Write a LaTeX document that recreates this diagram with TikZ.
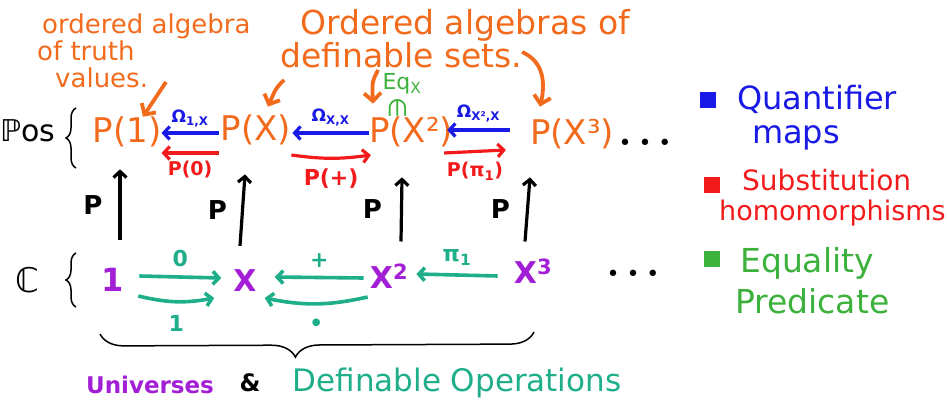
\documentclass[tikz,border=0pt]{standalone}
\usepackage{fontspec}
\setmainfont{DejaVu Sans}
\usepackage{graphicx}
\usetikzlibrary{arrows.meta,decorations.pathreplacing}
\definecolor{cor}{HTML}{F26B1D}
\definecolor{cbl}{HTML}{1A1AE6}
\definecolor{crd}{HTML}{F21A1A}
\definecolor{cgr}{HTML}{3CB13C}
\definecolor{ctl}{HTML}{1FAE8A}
\definecolor{cpu}{HTML}{A31FD6}
\newcommand{\fs}[1]{\fontsize{#1}{#1}\selectfont}
\begin{document}
\begin{tikzpicture}[x=1pt,y=-1pt,
  every node/.style={inner sep=0pt},
  pnode/.style={text=cor,font=\fs{34}},
  cnode/.style={text=cpu,font=\fs{30}\bfseries},
  ann/.style={text=cor,align=left,anchor=north west},
  barb/.style={-{Straight Barb[length=6pt,width=13pt]}},
  qarr/.style={draw=cbl,line width=3.2pt,barb},
  sarr/.style={draw=crd,line width=3.2pt,barb},
  tarr/.style={draw=ctl,line width=3.6pt,barb},
  parr/.style={draw=black,line width=3.2pt,barb},
  oarr/.style={draw=cor,line width=3.8pt,-{Straight Barb[length=8pt,width=17pt]}},
  qlab/.style={text=cbl,font=\fs{17}\bfseries},
  slab/.style={text=crd,font=\fs{19}\bfseries},
  tlab/.style={text=ctl,font=\fs{22}\bfseries},
  plab/.style={text=black,font=\fs{26}\bfseries},
  legsq/.style={minimum size=16pt,inner sep=0pt},
  legtxt/.style={anchor=base west},
  bracedeco/.style={draw=black,line width=1.5pt,decorate}
]
\useasboundingbox (0,0) rectangle (947,406);

% annotations
\node[ann,font=\fontsize{26}{27}\selectfont] (ann1) at (37,14)
  {\hspace*{5pt}ordered algebra\\of truth\\\hspace*{18pt}values.};
\node[ann,font=\fontsize{33}{28}\selectfont] (ann2) at (280,9)
  {\hspace*{20pt}Ordered algebras of\\definable sets.};
\coordinate (t1) at (166,82);
\coordinate (t2) at (284,80);
\coordinate (t3) at (378,70);
\coordinate (t4) at (522,52);

% top row
\node[font=\fs{30}] (pos) at (28,131) {ℙos};
\node[pnode] (p1) at (127,132) {P(1)};
\node[pnode] (px) at (256,130) {P(X)};
\node[pnode] (px2) at (411,132) {P(X²)};
\node[pnode] (px3) at (572,134) {P(X³)};
\node[font=\fs{22}] (pdots) at (645,145) {•\hspace{7pt}•\hspace{7pt}•};

\node[text=cgr,font=\fs{22}] (eq) at (402,84) {Eq\textsubscript{X}};
\node[text=cgr,font=\fs{24}] (in) at (398,108) {\rotatebox{-90}{∈}};

% bottom row
\node[font=\fs{34}] (cC) at (27,280) {ℂ};
\node[cnode,font=\fs{32}\bfseries] (c1) at (113,280) {1};
\node[cnode] (cx) at (245,281) {X};
\node[cnode] (cx2) at (389,276) {X\textsuperscript{2}};
\node[cnode] (cx3) at (533,271) {X\textsuperscript{3}};
\node[font=\fs{22}] (cdots) at (633,276) {•\hspace{7pt}•\hspace{7pt}•};

% braces
\draw[bracedeco,decoration={brace,amplitude=10pt}] (76,168) -- (76,108);
\draw[bracedeco,decoration={brace,amplitude=10pt}] (76,307) -- (76,253);
\draw[bracedeco,decoration={brace,amplitude=24pt,aspect=0.55}] (534,332) -- (100,334);

% bottom labels
\node[text=cpu,font=\fs{23}\bfseries] (univ) at (150,385) {Universes};
\node[font=\fs{24}\bfseries] (amp) at (250,383) {\&};
\node[text=ctl,font=\fs{31}] (defop) at (457,383) {Definable Operations};

% quantifier maps (blue)
\draw[qarr] ([shift={(-2,3)}]px.west) -- ([shift={(0,1)}]p1.east)
  node[midway,above=4pt,qlab] {Ω\textsubscript{1,X}};
\draw[qarr] ([shift={(0,1)}]px2.west) -- ([shift={(1,3)}]px.east)
  node[midway,above=5pt,qlab] {Ω\textsubscript{X,X}};
\draw[qarr] ([shift={(-20,-4)}]px3.west) -- ([shift={(-6,-2)}]px2.east)
  node[midway,above=6pt,qlab] {Ω\textsubscript{X²,X}};

% substitution homomorphisms (red)
\draw[sarr] ([shift={(-2,23)}]px.west) -- ([shift={(0,21)}]p1.east)
  node[midway,below=6pt,slab] {P(0)};
\draw[sarr] ([shift={(0,25)}]px.east) to[bend right=8]
  node[midway,below=9pt,slab,font=\fs{22}\bfseries] {P(+)} ([shift={(2,23)}]px2.west);
\draw[sarr] ([shift={(-9,21)}]px2.east) -- ([shift={(-24,16)}]px3.west)
  node[midway,below=9pt,slab] {P(π\textsubscript{1})};

% functor arrows
\draw[parr] ([shift={(7,-28)}]c1.north) -- ([shift={(-7,22)}]p1.south)
  node[midway,left=16pt,plab] {P};
\draw[parr] ([shift={(-5,-24)}]cx.north) -- ([shift={(-11,29)}]px.south)
  node[midway,left=14pt,plab] {P};
\draw[parr] ([shift={(12,-22)}]cx2.north) -- ([shift={(-9,30)}]px2.south)
  node[midway,left=18pt,plab] {P};
\draw[parr] ([shift={(-8,-17)}]cx3.north) -- ([shift={(-42,28)}]px3.south)
  node[midway,left=16pt,plab] {P};

% definable operations (teal)
\draw[tarr] ([shift={(15,-4)}]c1.east) -- ([shift={(-12,-3)}]cx.west)
  node[midway,above=8pt,tlab] {0};
\draw[tarr] ([shift={(14,16)}]c1.east) to[bend right=12]
  node[midway,below=12pt,tlab] {1} ([shift={(-19,17)}]cx.west);
\draw[tarr] ([shift={(-6,2)}]cx2.west) -- ([shift={(18,-4)}]cx.east)
  node[midway,above=8pt,tlab] {+};
\draw[tarr] ([shift={(-2,21)}]cx2.west) to[bend left=12]
  node[midway,below=13pt,tlab,font=\fs{26}] {•} ([shift={(8,17)}]cx.east);
\draw[tarr] ([shift={(-16,5)}]cx3.west) -- ([shift={(8,-2)}]cx2.east)
  node[midway,above=8pt,tlab] {π\textsubscript{1}};

% annotation arrows (orange)
\draw[oarr] (t1) -- ([shift={(16,0)}]p1.north);
\draw[oarr] (t2) .. controls (276,88) .. ([shift={(12,-8)}]px.north);
\draw[oarr] (t3) .. controls (372,82) .. ([shift={(-38,-13)}]px2.north);
\draw[oarr] (t4) .. controls (545,62) and (545,85) .. ([shift={(-32,-12)}]px3.north);

% legend
\node[legsq,fill=cbl] (lq) at (708,100) {};
\node[legsq,fill=crd] (ls) at (712,185) {};
\node[legsq,fill=cgr] (le) at (712,259) {};
\node[legtxt,text=cbl,font=\fs{32}] (lq1) at (737,110) {Quantifier};
\node[legtxt,text=cbl,font=\fs{32}] (lq2) at (752,144) {maps};
\node[legtxt,text=crd,font=\fs{28}] (ls1) at (742,191) {Substitution};
\node[legtxt,text=crd,font=\fs{27}] (ls2) at (719,220) {homomorphisms};
\node[legtxt,text=cgr,font=\fs{33}] (le1) at (740,272) {Equality};
\node[legtxt,text=cgr,font=\fs{33}] (le2) at (735,313) {Predicate};
\end{tikzpicture}
\end{document}
